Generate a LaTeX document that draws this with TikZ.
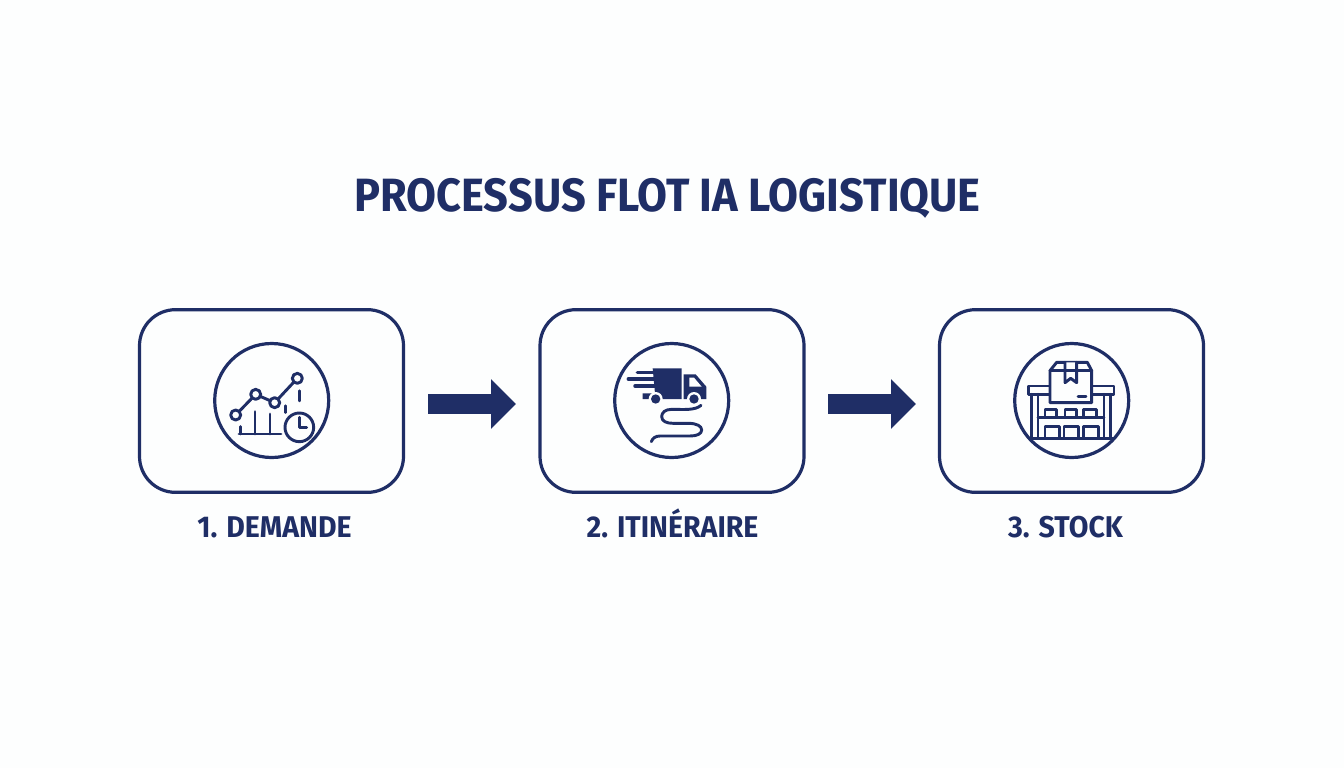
\documentclass[tikz,border=0pt]{standalone}
\usepackage{fontspec}
\usetikzlibrary{arrows.meta,calc}
\setmainfont{Fira Sans}[BoldFont={Fira Sans Bold}]
\newfontfamily\titlefont{Fira Sans Bold}[FakeStretch=0.93]
\newfontfamily\labelfont{Fira Sans Bold}[FakeStretch=0.95]
\definecolor{navy}{HTML}{1F2E66}
\definecolor{paper}{HTML}{FDFEFE}
\tikzset{
  x=0.75pt,y=-0.75pt,
  stage/.style={draw=navy,line width=2.4pt,rounded corners=27pt,minimum width=198pt,minimum height=137pt,inner sep=0pt},
  badge/.style={circle,draw=navy,line width=2.4pt,minimum size=85.5pt,inner sep=0pt},
  caption/.style={text=navy,font=\labelfont\fontsize{22.5}{26}\selectfont,anchor=base},
  conn/.style={draw=navy,line width=15pt,-{Triangle[length=18.75pt,width=36pt]}},
  ico/.style={draw=navy,line width=2.2pt,line cap=round,line join=round},
  icofine/.style={draw=navy,line width=1.8pt,line cap=round,line join=round},
  zoomed/.style={x=0.25pt,y=-0.25pt}
}
\begin{document}
\begin{tikzpicture}
\useasboundingbox[fill=paper] (0,0) rectangle (1344,768);
\node[text=navy,anchor=base,font=\titlefont\fontsize{35}{40}\selectfont] (title) at (667.5,211) {PROCESSUS FLOT IA LOGISTIQUE};
\node[stage] (a) at (271.5,401) {};
\node[stage] (b) at (672,401) {};
\node[stage] (c) at (1071.5,401) {};
\node[badge] (ba) at (271.7,400.5) {};
\node[badge] (bb) at (671.7,400.5) {};
\node[badge] (bc) at (1071.7,400.5) {};
\node[caption] (la) at (274.5,537) {1. DEMANDE};
\node[caption] (lb) at (672.5,537) {2. ITINÉRAIRE};
\node[caption] (lc) at (1065.5,537) {3. STOCK};
\draw[conn] ([shift={(23,3)}]a.east) -- ([shift={(-22.4,3)}]b.west);
\draw[conn] ([shift={(22.4,3)}]b.east) -- ([shift={(-21.9,3)}]c.west);
% demand icon
\begin{scope}[shift={(200,330)},zoomed]
\draw[ico] (107,255) -- (167,193) -- (224,218) -- (292,145);
\foreach \p in {(107,255),(167,193),(224,218),(292,145)}
  \draw[ico,fill=paper] \p circle[radius=15];
\draw[ico] (117,312) -- (243,312);
\draw[ico] (122,290) -- (122,312) (165,245) -- (165,312) (210,252) -- (210,312);
\draw[icofine] (257,227) -- (257,248) (298,182) -- (298,213);
\draw[ico,fill=paper] (298,292) circle[radius=43];
\draw[ico] (298,262) -- (298,292) -- (320,292);
\end{scope}
% truck icon
\begin{scope}[shift={(600,330)},zoomed]
\fill[navy] (158,115) -- (245,115) -- (245,207) -- (128,207) -- (128,190) -- (165,190) -- cycle;
\draw[ico,line width=2.6pt] (112,127) -- (165,127) (85,147) -- (165,147) (105,168) -- (165,168);
\fill[navy] (251,133) -- (287,133) -- (319,170) -- (319,207) -- (251,207) -- cycle;
\fill[paper] (268,143) -- (282,143) -- (305,170) -- (268,170) -- cycle;
\foreach \q in {(167,207),(282,207)} {
  \fill[paper] \q circle[radius=21];
  \fill[navy] \q circle[radius=14];
}
\draw[ico] (303,226) .. controls (285,242) and (250,238) .. (215,238)
  .. controls (195,238) and (185,248) .. (185,260)
  .. controls (185,274) and (200,280) .. (220,280)
  -- (265,280) .. controls (290,280) and (305,288) .. (305,300)
  .. controls (305,312) and (290,318) .. (270,318)
  -- (180,318) .. controls (165,318) and (158,325) .. (154,335);
\end{scope}
% warehouse icon
\begin{scope}[shift={(1000,330)},zoomed]
\draw[ico] (150,168) -- (85,168) -- (85,193) -- (342,193) -- (342,168) -- (275,168);
\draw[ico] (95,193) -- (95,325) (114,193) -- (114,325) (312,193) -- (312,325) (331,193) -- (331,325);
\draw[ico,line width=2.6pt] (88,325) -- (340,325);
\draw[ico] (114,262) -- (312,262);
\draw[ico] (135,262) -- (135,238) -- (170,238) -- (170,262);
\draw[ico] (195,262) -- (195,238) -- (230,238) -- (230,262);
\draw[ico] (250,262) -- (250,238) -- (290,238) -- (290,262);
\draw[ico] (135,325) -- (135,290) -- (178,290) -- (178,325);
\draw[ico] (192,325) -- (192,290) -- (235,290) -- (235,325);
\draw[ico] (250,325) -- (250,290) -- (295,290) -- (295,325);
\draw[ico,fill=paper] (150,122) -- (170,97) -- (262,97) -- (275,122) -- (275,218) -- (150,218) -- cycle;
\draw[ico] (150,122) -- (275,122);
\draw[ico,fill=paper] (195,97) -- (195,158) -- (212,145) -- (230,158) -- (230,97);
\draw[ico] (195,122) -- (230,122);
\draw[ico] (234,200) -- (258,200);
\end{scope}
\end{tikzpicture}
\end{document}
